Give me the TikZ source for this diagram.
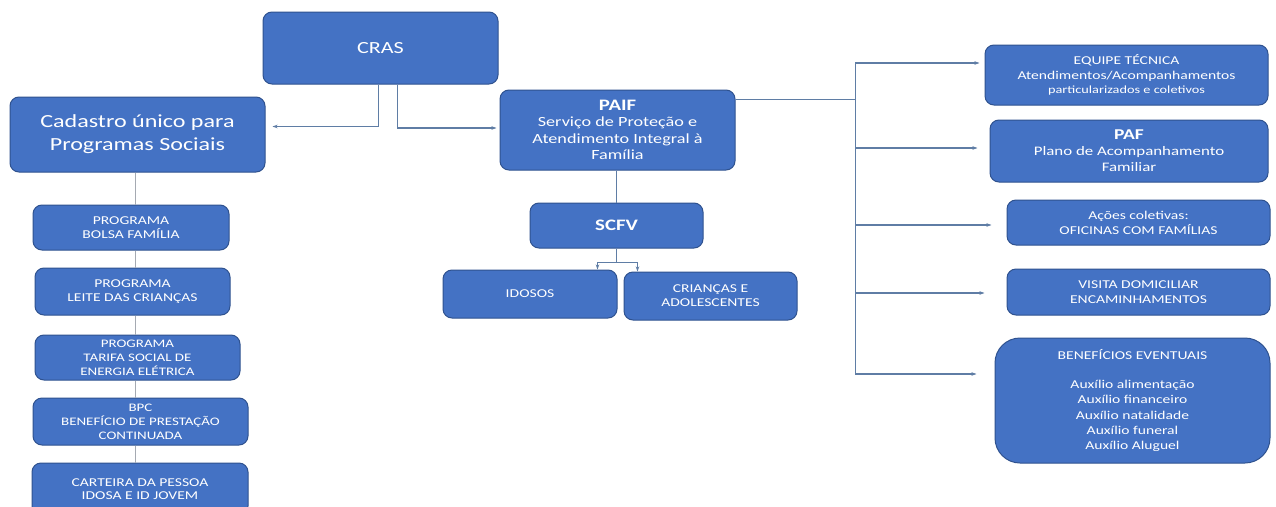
\documentclass[tikz,border=0pt]{standalone}
\usepackage{fontspec}
\setmainfont{Carlito}[FakeStretch=1.3]
\usepackage{tikz}
\usetikzlibrary{arrows.meta,calc,positioning}

\definecolor{boxblue}{RGB}{68,114,196}
\definecolor{boxedge}{RGB}{47,82,143}
\definecolor{lineblue}{RGB}{95,125,165}
\definecolor{linegray}{RGB}{165,170,178}
\newcommand{\fsz}[2]{\fontsize{#1}{#2}\selectfont}

\begin{document}
\begin{tikzpicture}[x=1pt,y=-1pt,
  box/.style={rectangle, rounded corners=9pt, draw=boxedge, line width=1pt,
              fill=boxblue, text=white, align=center, inner sep=0pt},
  lin/.style={draw=lineblue, line width=1.1pt},
  arr/.style={lin, -{Stealth[length=5pt,width=3.5pt]}},
  lingray/.style={draw=linegray, line width=1.4pt}]
\useasboundingbox[fill=white] (0,0) rectangle (1276,506);

% top and left column
\node[box, minimum width=235pt, minimum height=72pt, font=\fsz{17}{20}] (cras) at (380.5,48) {CRAS};
\node[box, minimum width=255pt, minimum height=75pt, font=\fsz{18.5}{23}] (cad) at (137.5,134.5)
  {Cadastro único para\\Programas Sociais};
\node[box, minimum width=196pt, minimum height=45pt, font=\fsz{12}{13.5}] (bolsa) at (131,227.5)
  {PROGRAMA\\BOLSA FAMÍLIA};
\node[box, minimum width=195pt, minimum height=47pt, font=\fsz{12}{14}] (leite) at (132.5,291.5)
  {PROGRAMA\\LEITE DAS CRIANÇAS};
\node[box, minimum width=205pt, minimum height=45pt, font=\fsz{11.5}{14}] (tarifa) at (137.5,357.5)
  {PROGRAMA\\TARIFA SOCIAL DE\\ENERGIA ELÉTRICA};
\node[box, minimum width=215pt, minimum height=47pt, font=\fsz{11.5}{14}] (bpc) at (140.5,421.5)
  {BPC\\BENEFÍCIO DE PRESTAÇÃO\\CONTINUADA};
\node[box, minimum width=216pt, minimum height=52pt, font=\fsz{12}{13.5}] (carteira) at (140,489)
  {CARTEIRA DA PESSOA\\IDOSA E ID JOVEM};

% middle
\node[box, minimum width=235pt, minimum height=80pt, font=\fsz{14}{16.5}] (paif) at (617.5,130)
  {\textbf{\fsz{16}{20}PAIF}\\Serviço de Proteção e\\Atendimento Integral à\\Família};
\node[box, minimum width=173pt, minimum height=45pt, font=\fsz{16}{19}\bfseries] (scfv) at (616.5,225.5) {SCFV};
\node[box, minimum width=174pt, minimum height=48pt, font=\fsz{12}{14}] (idosos) at (530,294) {IDOSOS};
\node[box, minimum width=173pt, minimum height=48pt, font=\fsz{12}{14}] (criancas) at (710.5,296)
  {CRIANÇAS E\\ADOLESCENTES};

% right column
\node[box, minimum width=283pt, minimum height=60pt, font=\fsz{12}{14.5}] (equipe) at (1126.5,75)
  {EQUIPE TÉCNICA\\Atendimentos/Acompanhamentos\\{\fsz{11}{14.5}particularizados e coletivos}};
\node[box, minimum width=278pt, minimum height=62pt, font=\fsz{13}{16}] (paf) at (1129,151)
  {\textbf{\fsz{15}{18}PAF}\\Plano de Acompanhamento\\Familiar};
\node[box, minimum width=263pt, minimum height=45pt, font=\fsz{12}{15}] (acoes) at (1138.5,222.5)
  {Ações coletivas:\\OFICINAS COM FAMÍLIAS};
\node[box, minimum width=263pt, minimum height=46pt, font=\fsz{12}{15}] (visita) at (1138.5,292)
  {VISITA DOMICILIAR\\ENCAMINHAMENTOS};
\node[box, rounded corners=25pt, minimum width=275pt, minimum height=125pt, font=\fsz{12}{15.2}] (benef) at (1132.5,400.5)
  {BENEFÍCIOS EVENTUAIS\\[14pt]Auxílio alimentação\\Auxílio financeiro\\Auxílio natalidade\\Auxílio funeral\\Auxílio Aluguel};

% connectors
\draw[arr] ($(cras.south)+(-2,0)$) |- ($(cad.east)+(7,-8)$);
\draw[arr] ($(cras.south)+(17,0)$) |- ($(paif.west)+(-3,-2)$);

\coordinate (lx) at ($(cad.south)+(-2,0)$);
\foreach \a/\b in {cad/bolsa,bolsa/leite,leite/tarifa,tarifa/bpc,bpc/carteira}
  \draw[lingray] (\a.south -| lx) -- (\b.north -| lx);

\draw[lin] (scfv.north |- paif.south) -- (scfv.north);
\coordinate (sp) at ($(scfv.south)+(0,14)$);
\draw[lin] (scfv.south) -- (sp);
\draw[arr] (sp) -| ($(idosos.north east)+(-20,0)$);
\draw[arr] (sp) -| ($(criancas.north west)+(14,0)$);

\coordinate (tr) at ($(paif.north east)+(120,10)$);
\draw[lin] ($(paif.north east)+(0,10)$) -- (tr);
\draw[arr] (tr) |- ($(equipe.west)+(-5,-12)$);
\draw[arr] (tr) |- ($(paf.west)+(-12,-3)$);
\draw[arr] (tr) |- ($(acoes.west)+(-15,2.5)$);
\draw[arr] (tr) |- ($(visita.west)+(-22,1)$);
\draw[arr] (tr) |- ($(benef.west)+(-18,-26.5)$);
\end{tikzpicture}
\end{document}
